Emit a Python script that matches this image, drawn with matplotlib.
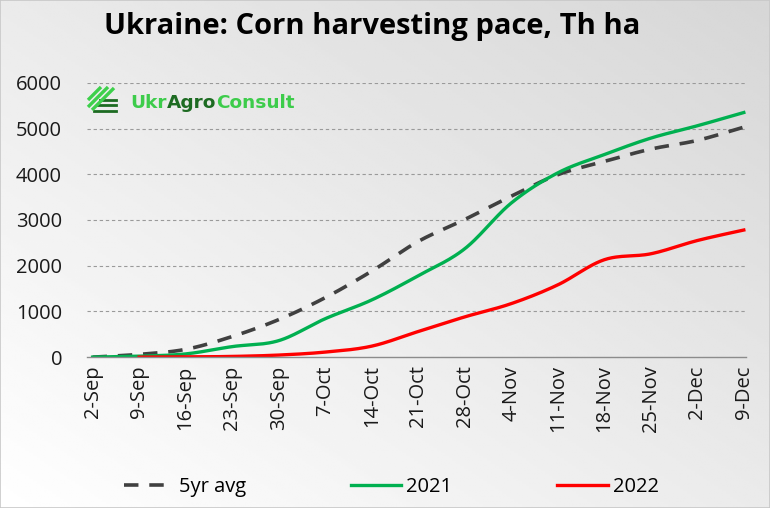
import numpy as np
import matplotlib
matplotlib.use('Agg')
import matplotlib.pyplot as plt
from matplotlib.lines import Line2D

plt.rcParams['font.family'] = ['Open Sans', 'DejaVu Sans']

weeks = ['2-Sep', '9-Sep', '16-Sep', '23-Sep', '30-Sep', '7-Oct', '14-Oct', '21-Oct',
         '28-Oct', '4-Nov', '11-Nov', '18-Nov', '25-Nov', '2-Dec', '9-Dec']
avg5 = [0, 60, 170, 450, 820, 1300, 1880, 2530, 3010, 3520, 3990, 4280, 4550, 4740, 5030]
y2021 = [0, 20, 70, 230, 360, 840, 1250, 1780, 2370, 3370, 4030, 4430, 4790, 5060, 5350]
y2022 = [np.nan, 0, 5, 15, 45, 110, 240, 560, 880, 1170, 1580, 2130, 2260, 2550, 2780]


def smooth(x, y, n=24):
    # Catmull-Rom curve through the points, like Excel's "smoothed line"
    pts = np.column_stack([x, y])
    pts = pts[~np.isnan(pts[:, 1])]
    P = np.vstack([pts[0], pts, pts[-1]])
    t = np.linspace(0, 1, n, endpoint=False)[:, None]
    out = []
    for i in range(1, len(P) - 2):
        p0, p1, p2, p3 = P[i - 1], P[i], P[i + 1], P[i + 2]
        seg = 0.5 * (2 * p1 + (-p0 + p2) * t + (2 * p0 - 5 * p1 + 4 * p2 - p3) * t ** 2
                     + (-p0 + 3 * p1 - 3 * p2 + p3) * t ** 3)
        out.append(seg)
    out.append(pts[-1:])
    s = np.vstack(out)
    return s[:, 0], s[:, 1]


W, H = 770, 508
fig = plt.figure(figsize=(7.7, 5.08), dpi=100)

# gradient background
bg = fig.add_axes([0, 0, 1, 1], zorder=-5)
gx, gy = np.meshgrid(np.linspace(0, 1, 200), np.linspace(0, 1, 200))
shade = 1.0 - 0.16 * (0.5 * gx + 0.5 * gy)
bg.imshow(shade, cmap='gray', vmin=0, vmax=1, origin='lower', aspect='auto', extent=[0, 1, 0, 1])
bg.set_axis_off()
fig.patches.append(plt.Rectangle((0, 0), 1, 1, transform=fig.transFigure, fill=False,
                                 edgecolor='#c8c8c8', lw=1.2))

ax = fig.add_axes([0.113, 0.297, 0.856, 0.54])
ax.set_facecolor('none')
x = np.arange(len(weeks))

ax.plot(*smooth(x, np.array(avg5, float)), color='#404040', lw=2.6, dashes=(4, 3), label='5yr avg')
ax.plot(*smooth(x, np.array(y2021, float)), color='#00b050', lw=2.4, label='2021')
ax.plot(*smooth(x, np.array(y2022, float)), color='#ff0000', lw=2.4, label='2022')

ax.set_ylim(0, 6000)
ax.set_xlim(-0.12, 14.05)
ax.set_yticks(range(0, 6001, 1000))
ax.set_xticks(x)
ax.set_xticklabels(weeks, rotation=90)
ax.tick_params(axis='both', length=0, labelsize=14.5, colors='#1a1a1a')
ax.tick_params(axis='y', pad=18)
ax.tick_params(axis='x', pad=6)
for sp in ['top', 'right', 'left']:
    ax.spines[sp].set_visible(False)
ax.spines['bottom'].set_color('#8c8c8c')
ax.spines['bottom'].set_linewidth(1)
for v in range(1000, 6001, 1000):
    ax.axhline(v, color='#9a9a9a', lw=0.8, ls=(0, (3, 2.5)), zorder=0)

fig.text(0.484, 0.947, 'Ukraine: Corn harvesting pace, Th ha', ha='center', va='center',
         fontsize=21, fontweight='bold', color='black')


# logo (pixel coords -> figure coords)
def px(xp, yp):
    return [v / W for v in xp], [1 - v / H for v in yp]


for xs, ys in [((100, 116), (99.5, 99.5)), ((97, 116), (105, 105)), ((94, 116), (110.5, 110.5))]:
    fig.add_artist(Line2D(*px(xs, ys), color='#1d6b22', lw=2.0, transform=fig.transFigure))
for xs, ys in [((88, 101), (100, 87)), ((88, 108), (107, 87)), ((92, 114), (110, 88))]:
    fig.add_artist(Line2D(*px(xs, ys), color='#3dd04b', lw=2.4, transform=fig.transFigure,
                          solid_capstyle='butt'))

fig.canvas.draw()
r = fig.canvas.get_renderer()
xpos = 130 / W
for part, col in [('Ukr', '#3dcc4b'), ('Agro', '#1d6b22'), ('Consult', '#3dcc4b')]:
    t = fig.text(xpos, 1 - 103 / H, part, ha='left', va='center', fontsize=13.3,
                 fontweight='bold', color=col, family='DejaVu Sans')
    xpos += t.get_window_extent(r).width / fig.bbox.width

ax.legend(loc='center', bbox_to_anchor=(0.508, 0.041), bbox_transform=fig.transFigure, ncol=3,
          frameon=False, fontsize=14.5, handlelength=2.5, handletextpad=0.25, columnspacing=5.2)

plt.savefig('out.png', dpi=100)
plt.close()
